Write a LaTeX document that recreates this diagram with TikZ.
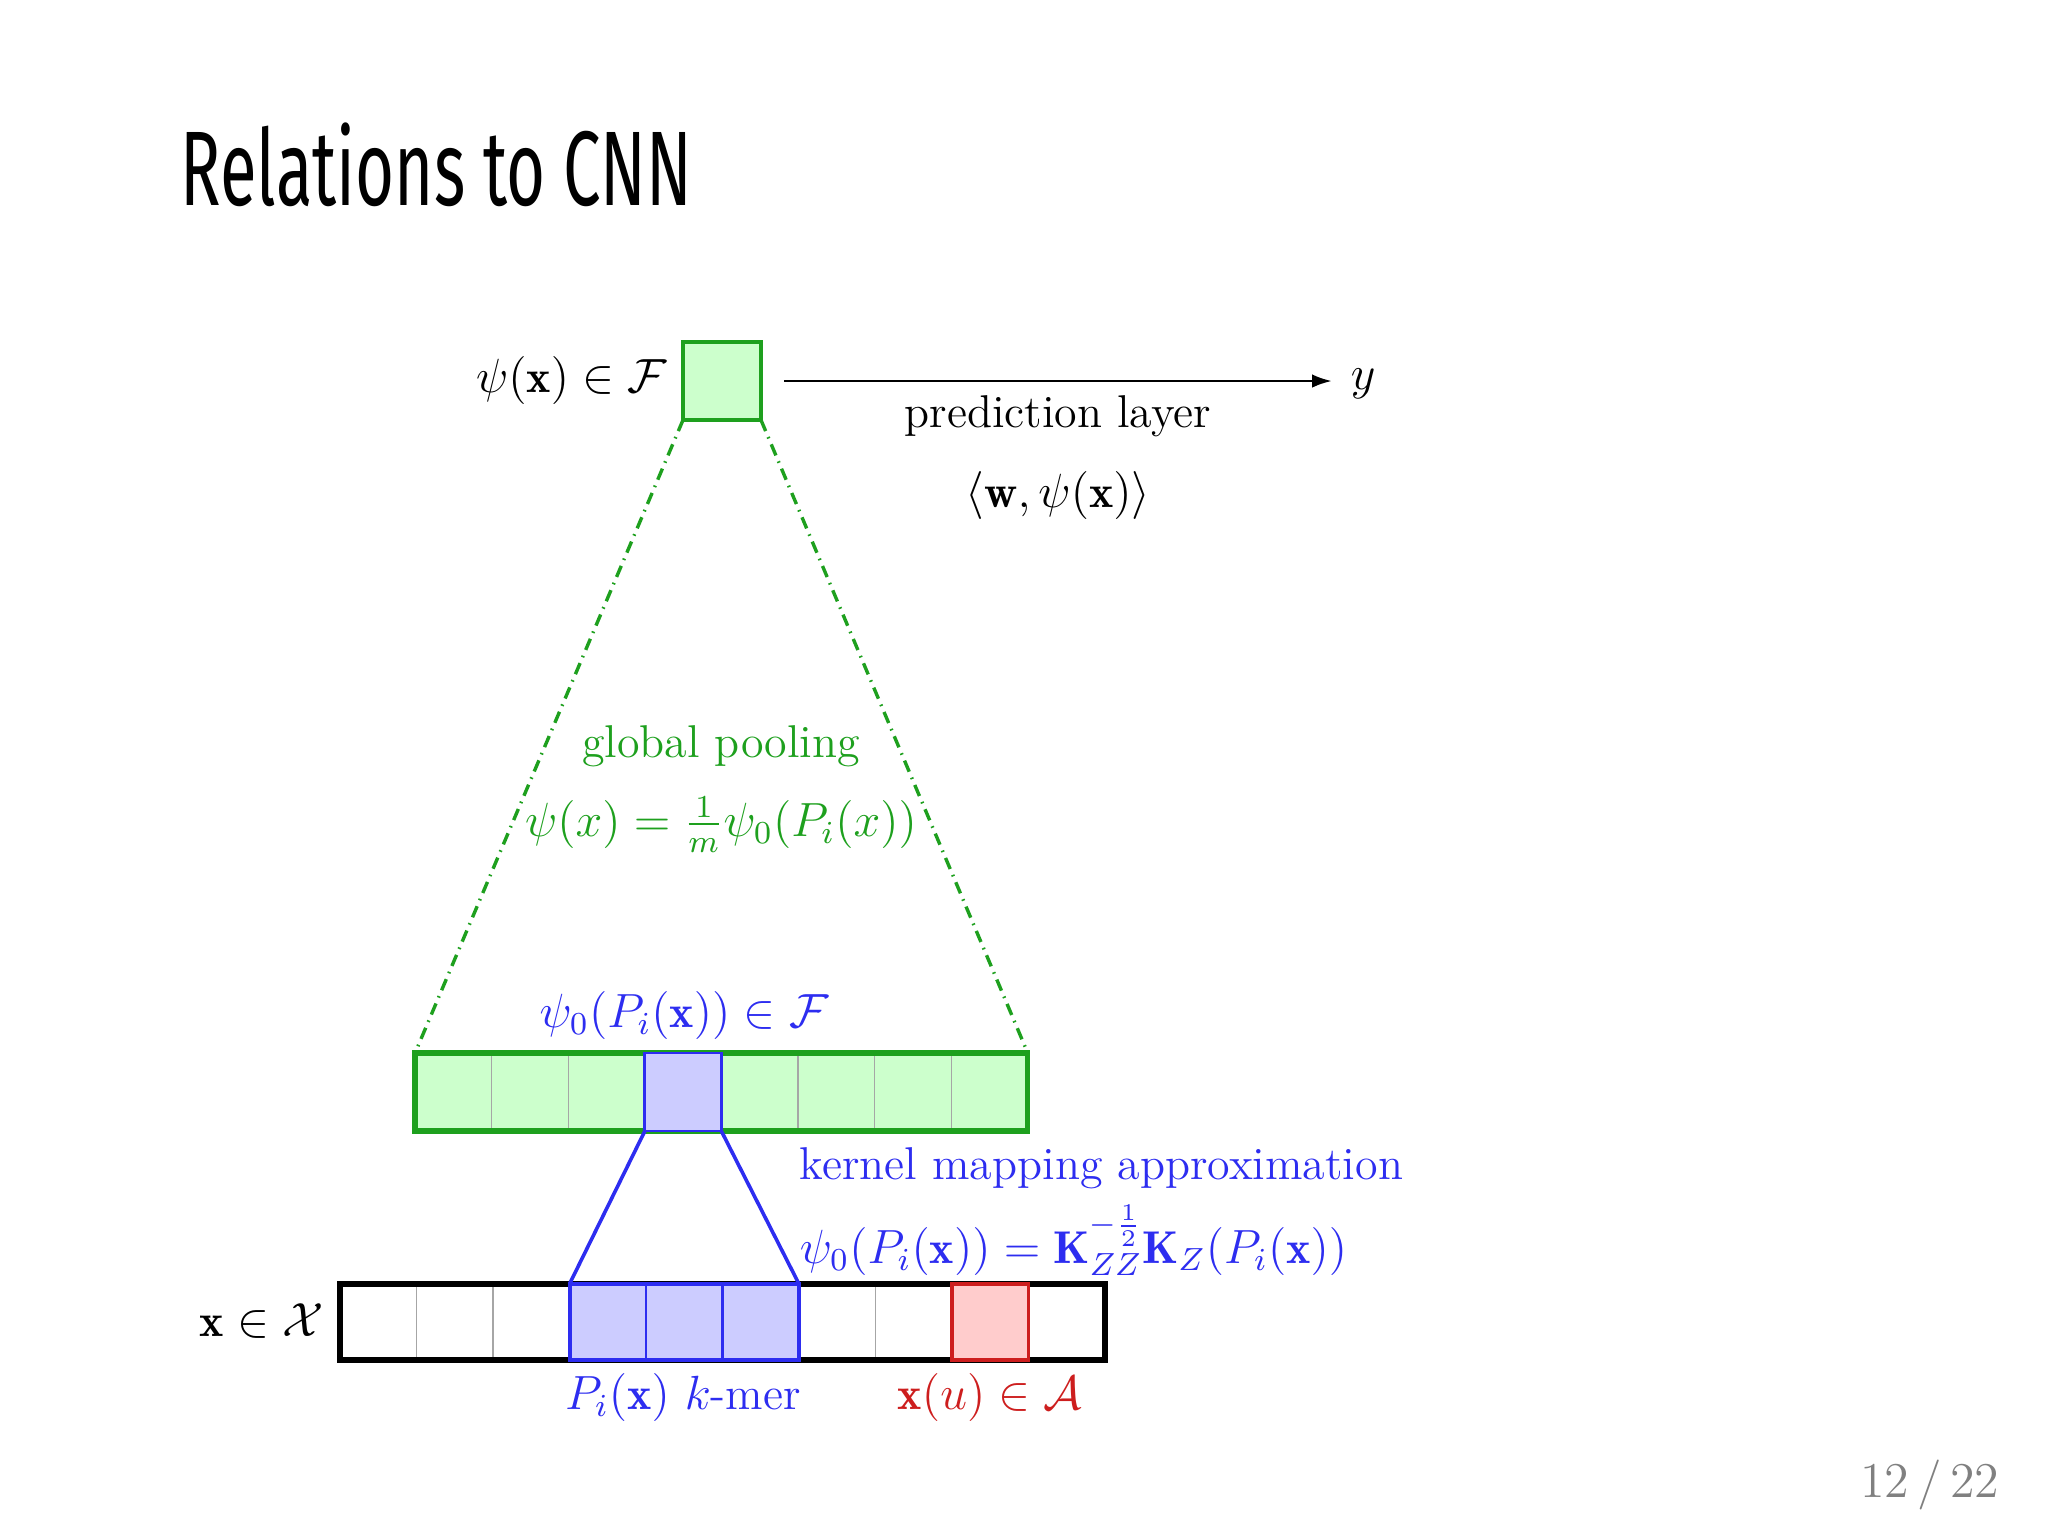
\documentclass[tikz,border=0pt]{standalone}
\usepackage{amsmath}
\usepackage{amssymb}
\usepackage{graphicx}
\usepackage{fontspec}
\newfontfamily\titlefont{Fira Sans}
\usepackage{tikz}
\usetikzlibrary{arrows.meta, positioning, calc}

\definecolor{pgreen}{RGB}{30,160,30}
\definecolor{pgfill}{RGB}{204,255,204}
\definecolor{pblue}{RGB}{45,45,240}
\definecolor{pbfill}{RGB}{204,204,255}
\definecolor{pred}{RGB}{205,30,30}
\definecolor{prfill}{RGB}{255,204,204}

\begin{document}
\begin{tikzpicture}[
  x=0.25pt, y=-0.25pt,
  font=\fontsize{11.5}{13.5}\selectfont,
  >={Latex[length=5pt, width=3.4pt]},
  txt/.style   ={inner sep=0pt},
  cell/.style  ={draw=gray!70, line width=0.3pt, inner sep=0pt, outer sep=0pt,
                 minimum width=19.125pt},
  incell/.style={cell, fill=white, minimum height=19pt},
  fcell/.style ={cell, fill=pgfill, minimum height=19.5pt},
  kcell/.style ={cell, draw=pblue, line width=0.7pt, fill=pbfill},
  acell/.style ={cell, draw=pred, line width=0.8pt, fill=prfill, minimum height=19pt},
  pool/.style  ={pgreen, line width=0.85pt, dash pattern=on 3pt off 1.6pt on 0.4pt off 1.6pt},
  arr/.style   ={->, line width=0.7pt},
]
\useasboundingbox (0,0) rectangle (2048,1536);

% --- slide title and page number ---
\node[txt, anchor=base west] (title) at (180,205)
  {\titlefont\fontsize{26.5}{30}\selectfont\scalebox{0.632}[1]{Relations to CNN}};
\node[txt, anchor=base east, text=gray] (page) at (2000,1497)
  {\fontsize{12.5}{14}\selectfont 12\,/\,22};

% --- top: pooled feature and prediction ---
\node[fcell, draw=pgreen, line width=1.2pt, minimum width=19.5pt] (psi) at (722,381) {};
\node[txt, anchor=base east] (psilab) at (668,392) {$\psi(\mathbf{x}) \in \mathcal{F}$};
\node[txt, anchor=base west] (y) at (1350,389) {$y$};
\coordinate (arrs) at ($(psi.east)+(23,0)$);
\coordinate (arre) at ($(y.west |- arrs)+(-18,0)$);
\draw[arr] (arrs) -- (arre);
\node[txt, anchor=base] (pred) at (1058,427) {prediction layer};
\node[txt, anchor=base] (inner) at (1058,507) {$\langle \mathbf{w}, \psi(\mathbf{x}) \rangle$};

% --- middle: feature map psi_0 ---
\foreach \i in {0,...,7}
  \node[fcell] (f\i) at ({453.3+76.6*\i},1092) {};
\draw[pgreen, line width=1.3pt] (f0.north west) rectangle (f7.south east);
\node[fcell, kcell] (f3b) at (f3) {};
\node[txt, anchor=base, text=pblue] (psi0lab) at (684,1027) {$\psi_0(P_i(\mathbf{x})) \in \mathcal{F}$};

% pooling cone
\draw[pool] (psi.south west) -- (f0.north west);
\draw[pool] (psi.south east) -- (f7.north east);
\node[txt, anchor=base, text=pgreen] (gp) at (721,757) {global pooling};
\node[txt, anchor=base, text=pgreen] (gpeq) at (721,836)
  {$\psi(x) = \frac{1}{m}\psi_0(P_i(x))$};

% --- bottom: input sequence x ---
\foreach \i in {0,...,9}
  \node[incell] (c\i) at ({378.25+76.5*\i},1322) {};
\draw[black, line width=1.3pt] (c0.north west) rectangle (c9.south east);
\node[kcell, minimum height=19pt] (k3) at (c3) {};
\node[kcell, minimum height=19pt] (k4) at (c4) {};
\node[kcell, minimum height=19pt] (k5) at (c5) {};
\draw[pblue, line width=1pt] (k3.north west) rectangle (k5.south east);
\node[acell] (xu) at (c8) {};

\node[txt, anchor=base] (xlab) at (262,1336) {$\mathbf{x} \in \mathcal{X}$};
\node[txt, anchor=base, text=pblue] (kmer) at (683,1409) {$P_i(\mathbf{x})$ $k$-mer};
\node[txt, anchor=base, text=pred] (xulab) at (990,1409) {$\mathbf{x}(u) \in \mathcal{A}$};

% kernel mapping links
\draw[pblue, line width=0.9pt] (f3b.south west) -- (k3.north west);
\draw[pblue, line width=0.9pt] (f3b.south east) -- (k5.north east);
\node[txt, anchor=base west, text=pblue] (km) at (799,1179) {kernel mapping approximation};
\node[txt, anchor=base west, text=pblue] (kmeq) at (799,1263)
  {$\psi_0(P_i(\mathbf{x})) = \mathbf{K}_{ZZ}^{-\frac{1}{2}}\mathbf{K}_Z(P_i(\mathbf{x}))$};

\end{tikzpicture}
\end{document}
